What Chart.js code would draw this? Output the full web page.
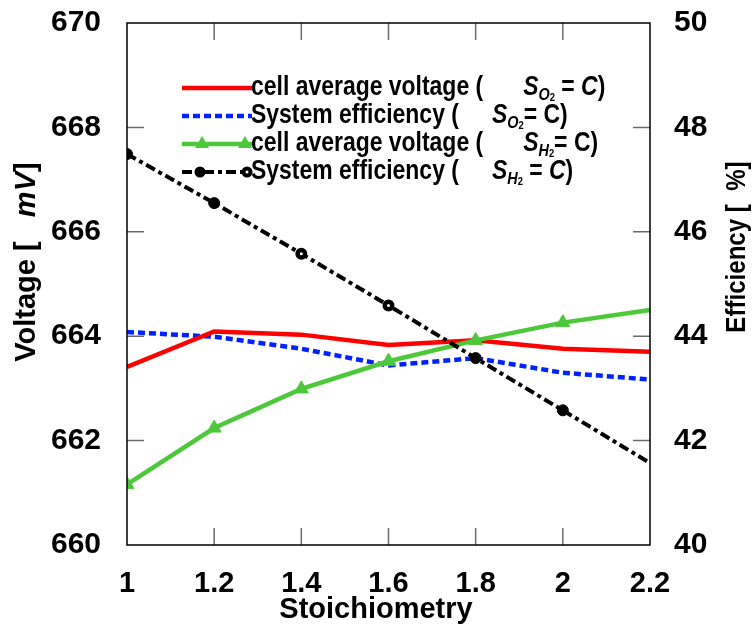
<!DOCTYPE html>
<html lang="en">
<head>
<meta charset="UTF-8" />
<title>Stoichiometry</title>
<script src="https://cdn.jsdelivr.net/npm/chart.js"></script>
<style>
  body { margin: 0; background: #fff; }
</style>
</head>
<body>
<canvas id="miCanvas" width="756" height="631"></canvas>
<script>
const stoich = [1, 1.2, 1.4, 1.6, 1.8, 2, 2.2];
const voltO2 = [663.41, 664.09, 664.03, 663.83, 663.92, 663.76, 663.70];
const effO2 = [44.08, 43.99, 43.76, 43.44, 43.58, 43.30, 43.17];
const voltH2 = [661.16, 662.24, 662.99, 663.52, 663.92, 664.26, 664.50];
const effH2 = [47.49, 46.55, 45.58, 44.59, 43.58, 42.58, 41.57];
const xTicks = [1, 1.2, 1.4, 1.6, 1.8, 2, 2.2];
const voltTicks = [660, 662, 664, 666, 668, 670];
const effTicks = [40, 42, 44, 46, 48, 50];

const FONT = '"Liberation Sans", Arial, sans-serif';

const pts = (ys) => stoich.map((x, i) => ({ x: x, y: ys[i] }));

// legend rows: dataset index, text before, gap, subscript letter, "=" text, italic C
const legendRows = [
  { ds: 2, pre: 'cell average voltage (', gap: 40, sub: 'O', eq: ' = ', itC: true },
  { ds: 3, pre: 'System efficiency (', gap: 33, sub: 'O', eq: '= ', itC: false },
  { ds: 1, pre: 'cell average voltage (', gap: 40, sub: 'H', eq: '= ', itC: false },
  { ds: 0, pre: 'System efficiency (', gap: 33, sub: 'H', eq: ' = ', itC: true }
];

// draws horizontally squeezed text, returns advance
function txt(ctx, s, x, y, font, sx) {
  ctx.font = font;
  ctx.save();
  ctx.translate(x, y);
  ctx.scale(sx, 1);
  ctx.fillText(s, 0, 0);
  ctx.restore();
  return ctx.measureText(s).width * sx;
}

const noPad = s => { s.paddingTop = 0; s.paddingBottom = 0; };

const decor = {
  id: 'decor',
  afterDatasetsDraw(chart) {
    const ctx = chart.ctx;
    const a = chart.chartArea;
    const xs = chart.scales.x, ys = chart.scales.y;
    ctx.save();
    // inward ticks
    ctx.strokeStyle = '#6a6a6a';
    ctx.lineWidth = 1.5;
    ctx.beginPath();
    voltTicks.slice(1, -1).forEach(v => {
      const py = ys.getPixelForValue(v);
      ctx.moveTo(a.left, py); ctx.lineTo(a.left + 17, py);
      ctx.moveTo(a.right, py); ctx.lineTo(a.right - 17, py);
    });
    xTicks.slice(1, -1).forEach(v => {
      const px = xs.getPixelForValue(v);
      ctx.moveTo(px, a.bottom); ctx.lineTo(px, a.bottom - 17);
      ctx.moveTo(px, a.top); ctx.lineTo(px, a.top + 17);
    });
    ctx.stroke();
    // frame
    ctx.strokeStyle = '#000';
    ctx.lineWidth = 1.5;
    ctx.strokeRect(a.left, a.top, a.right - a.left, a.bottom - a.top);

    // legend
    legendRows.forEach((row, i) => {
      const d = chart.data.datasets[row.ds];
      const y = 88 + i * 28;
      ctx.save();
      ctx.strokeStyle = d.borderColor;
      ctx.lineWidth = d.borderWidth;
      ctx.setLineDash(d.borderDash || []);
      ctx.beginPath();
      ctx.moveTo(182, y); ctx.lineTo(252, y);
      ctx.stroke();
      ctx.restore();
      if (d.pointStyle === 'triangle') {
        ctx.fillStyle = d.borderColor;
        ctx.beginPath();
        [202, 245].forEach(px => {
          ctx.moveTo(px, y - 8); ctx.lineTo(px + 7, y + 4); ctx.lineTo(px - 7, y + 4); ctx.closePath();
        });
        ctx.fill();
      } else if (d.pointStyle === 'circle') {
        ctx.fillStyle = '#000';
        [200, 247].forEach(px => { ctx.beginPath(); ctx.arc(px, y, 5.5, 0, Math.PI * 2); ctx.fill(); });
        ctx.fillStyle = '#fff';
        ctx.beginPath(); ctx.arc(247, y, 1.5, 0, Math.PI * 2); ctx.fill();
      }

      ctx.fillStyle = '#000';
      ctx.textBaseline = 'middle';
      ctx.textAlign = 'left';
      const sq = 0.85;
      let x = 251;
      x += txt(ctx, row.pre, x, y, 'bold 27px ' + FONT, sq) + row.gap;
      x += txt(ctx, 'S', x, y, 'italic bold 27px ' + FONT, sq);
      x += txt(ctx, row.sub, x, y + 7, 'italic bold 17px ' + FONT, sq);
      x += txt(ctx, '2', x, y + 10, 'bold 11px ' + FONT, sq);
      x += txt(ctx, row.eq, x, y, 'bold 27px ' + FONT, sq);
      x += txt(ctx, 'C', x, y, (row.itC ? 'italic ' : '') + 'bold 27px ' + FONT, sq);
      txt(ctx, ')', x, y, 'bold 27px ' + FONT, sq);
    });

    // axis titles
    ctx.textAlign = 'center';
    ctx.textBaseline = 'alphabetic';
    ctx.font = 'bold 29px ' + FONT;
    ctx.fillText('Stoichiometry', 376, 618);

    const rich = (parts, cx, cy, size, sx) => {
      let w = 0;
      parts.forEach(p => { ctx.font = p[1] + ' ' + size + 'px ' + FONT; w += ctx.measureText(p[0]).width * sx; });
      ctx.save();
      ctx.translate(cx, cy);
      ctx.rotate(-Math.PI / 2);
      ctx.textAlign = 'left';
      ctx.textBaseline = 'middle';
      let x = -w / 2;
      parts.forEach(p => {
        x += txt(ctx, p[0], x, 0, p[1] + ' ' + size + 'px ' + FONT, sx);
      });
      ctx.restore();
    };
    rich([['Voltage [   ', 'bold'], ['mV', 'italic bold'], [']', 'bold']], 27, 262, 29, 1);
    rich([['Efficiency [  %]', 'bold']], 737, 247, 28, 0.86);
    ctx.restore();
  }
};

const ctx = document.getElementById('miCanvas').getContext('2d');
new Chart(ctx, {
  type: 'line',
  data: {
    datasets: [
      {
        label: 'System efficiency (S_H2 = C)',
        data: pts(effH2),
        yAxisID: 'y1',
        borderColor: '#000000',
        borderWidth: 4,
        borderDash: [10, 4, 4, 4],
        pointStyle: 'circle',
        pointRadius: [5.5, 5.5, 3.75, 3.75, 5.5, 5.5, 0],
        pointBackgroundColor: ['#000', '#000', '#fff', '#fff', '#000', '#000', '#000'],
        pointBorderColor: '#000000',
        pointBorderWidth: [1, 1, 4.5, 4.5, 1, 1, 1]
      },
      {
        label: 'cell average voltage (S_H2 = C)',
        data: pts(voltH2),
        yAxisID: 'y',
        borderColor: '#4cc83a',
        borderWidth: 4.5,
        pointStyle: 'triangle',
        pointRadius: [8, 8, 8, 8, 8, 8, 0],
        pointBackgroundColor: '#4cc83a',
        pointBorderColor: '#4cc83a',
        pointBorderWidth: 1
      },
      {
        label: 'cell average voltage (S_O2 = C)',
        data: pts(voltO2),
        yAxisID: 'y',
        borderColor: '#ff0000',
        borderWidth: 4.5,
        pointRadius: 0
      },
      {
        label: 'System efficiency (S_O2 = C)',
        data: pts(effO2),
        yAxisID: 'y1',
        borderColor: '#0022ff',
        borderWidth: 4.5,
        borderDash: [7, 4],
        pointRadius: 0
      }
    ]
  },
  options: {
    responsive: false,
    animation: false,
    layout: { padding: { top: 23, left: 0, right: 0, bottom: 0 } },
    plugins: { legend: { display: false }, tooltip: { enabled: false } },
    elements: { line: { tension: 0 } },
    scales: {
      x: {
        type: 'linear',
        min: 1,
        max: 2.2,
        afterBuildTicks: s => { s.ticks = xTicks.map(v => ({ value: v })); },
        afterFit: s => { s.height = 86; },
        grid: { display: false },
        border: { display: false },
        ticks: {
          color: '#000',
          padding: 14,
          maxRotation: 0,
          font: { family: FONT, size: 29, weight: 'bold' },
          callback: v => String(v)
        }
      },
      y: {
        position: 'left',
        min: 660,
        max: 670,
        afterBuildTicks: s => { s.ticks = voltTicks.map(v => ({ value: v })); },
        afterFit: s => { s.width = 127; noPad(s); },
        grid: { display: false },
        border: { display: false },
        ticks: {
          color: '#000',
          padding: 18,
          font: { family: FONT, size: 30, weight: 'bold' }
        }
      },
      y1: {
        position: 'right',
        min: 40,
        max: 50,
        afterBuildTicks: s => { s.ticks = effTicks.map(v => ({ value: v })); },
        afterFit: s => { s.width = 106; noPad(s); },
        grid: { display: false },
        border: { display: false },
        ticks: {
          color: '#000',
          padding: 16,
          font: { family: FONT, size: 30, weight: 'bold' }
        }
      }
    }
  },
  plugins: [decor]
});
</script>
</body>
</html>
